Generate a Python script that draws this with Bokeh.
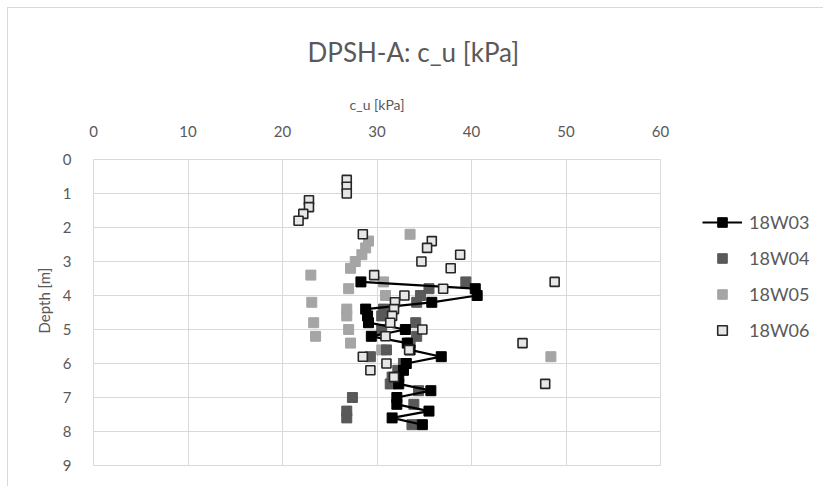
from bokeh.plotting import figure
from bokeh.models import Range1d, FixedTicker, Legend, LegendItem, Title
from bokeh.layouts import row
from bokeh.embed import file_html
from bokeh.resources import INLINE

# ---------------- data ----------------
title_text = "DPSH-A: c_u [kPa]"
x_label = "c_u [kPa]"
y_label = "Depth [m]"
x_ticks = [0, 10, 20, 30, 40, 50, 60]
y_ticks = [0, 1, 2, 3, 4, 5, 6, 7, 8, 9]

w03_depth = [3.6, 3.8, 4.0, 4.2, 4.4, 4.6, 4.8, 5.0, 5.2, 5.4, 5.6, 5.8, 6.0, 6.2, 6.4, 6.6, 6.8, 7.0, 7.2, 7.4, 7.6, 7.8]
w03_cu = [28.3, 40.4, 40.6, 35.8, 28.8, 29.0, 29.1, 33.0, 29.4, 33.2, 33.5, 36.8, 33.1, 32.8, 32.3, 32.3, 35.7, 32.1, 32.1, 35.5, 31.6, 34.8]

w04_depth = [3.6, 3.8, 4.0, 4.2, 4.4, 4.6, 4.8, 5.0, 5.2, 5.4, 5.6, 5.8, 6.0, 6.2, 6.4, 6.6, 6.8, 7.0, 7.2, 7.4, 7.6, 7.8]
w04_cu = [39.4, 35.5, 34.6, 34.2, 30.7, 30.5, 34.1, 30.5, 34.2, 33.5, 31.0, 29.3, 32.8, 32.2, 31.6, 31.4, 34.4, 27.4, 33.9, 26.8, 26.8, 33.7]

w05_depth = [2.2, 2.4, 2.6, 2.8, 3.0, 3.2, 3.4, 3.6, 3.8, 4.0, 4.2, 4.4, 4.6, 4.8, 5.0, 5.2, 5.4, 5.6, 5.8]
w05_cu = [33.5, 29.1, 28.8, 28.4, 27.7, 27.2, 23.0, 30.7, 27.0, 30.9, 23.1, 26.8, 26.8, 23.3, 27.0, 23.5, 27.2, 30.5, 48.4]

w06_depth = [0.6, 0.8, 1.0, 1.2, 1.4, 1.6, 1.8, 2.2, 2.4, 2.6, 2.8, 3.0, 3.2, 3.4, 3.6, 3.8, 4.0, 4.2, 4.4, 4.6, 4.8, 5.0, 5.2, 5.4, 5.6, 5.8, 6.0, 6.2, 6.4, 6.6]
w06_cu = [26.8, 26.8, 26.8, 22.8, 22.8, 22.2, 21.7, 28.5, 35.8, 35.3, 38.8, 34.7, 37.8, 29.7, 48.8, 37.0, 32.9, 31.9, 31.8, 31.6, 31.4, 34.8, 30.9, 45.4, 33.4, 28.5, 31.0, 29.3, 31.8, 47.8]

series_names = ["18W03", "18W04", "18W05", "18W06"]

# ---------------- styles ----------------
FONT = "Lato"
TXT = "#595959"
GRID = "#d9d9d9"
STY = {
    "18W03": dict(marker="square", size=10, fill_color="black", line_color="black"),
    "18W04": dict(marker="square", size=10, fill_color="#595959", line_color="#595959"),
    "18W05": dict(marker="square", size=10, fill_color="#a5a5a5", line_color="#a5a5a5"),
    "18W06": dict(marker="square", size=9, fill_color="#e7e7e7", line_color="#262626", line_width=1.6),
}

# ---------------- main plot ----------------
p = figure(width=662, height=478, output_backend="svg", toolbar_location=None,
           x_range=Range1d(0, 60), y_range=Range1d(9, 0),
           x_axis_location="above",
           min_border_left=85, min_border_top=149, min_border_right=10, min_border_bottom=21)
p.background_fill_color = "white"
p.border_fill_color = "white"
p.outline_line_color = GRID

p.title.text = title_text
p.title.align = "left"
p.title.offset = 214
p.title.standoff = 50
p.title.text_font = FONT
p.title.text_font_size = "26px"
p.title.text_font_style = "normal"
p.title.text_color = TXT

p.xaxis.ticker = FixedTicker(ticks=x_ticks)
p.yaxis.ticker = FixedTicker(ticks=y_ticks)
p.xgrid.ticker = FixedTicker(ticks=x_ticks)
p.ygrid.ticker = FixedTicker(ticks=y_ticks)
p.grid.grid_line_color = GRID
p.grid.grid_line_width = 1

for ax in (p.xaxis, p.yaxis):
    ax.axis_line_color = None
    ax.major_tick_line_color = None
    ax.minor_tick_line_color = None
    ax.major_label_text_color = TXT
    ax.major_label_text_font = FONT
    ax.major_label_text_font_size = "15px"

p.xaxis.major_label_standoff = 17
p.yaxis.major_label_standoff = 16
p.xaxis.axis_label = x_label
p.xaxis.axis_label_text_font = FONT
p.xaxis.axis_label_text_font_size = "14px"
p.xaxis.axis_label_text_font_style = "normal"
p.xaxis.axis_label_text_color = TXT
p.xaxis.axis_label_standoff = 10

p.add_layout(Title(text=y_label, align="left", offset=132, standoff=14,
                   text_font=FONT, text_font_size="15px", text_font_style="normal",
                   text_color=TXT), "left")

p.scatter(w05_cu, w05_depth, **STY["18W05"])
p.scatter(w04_cu, w04_depth, **STY["18W04"])
p.line(w03_cu, w03_depth, line_color="black", line_width=2.2)
p.scatter(w03_cu, w03_depth, **STY["18W03"])
p.scatter(w06_cu, w06_depth, **STY["18W06"])

# ---------------- legend panel ----------------
q = figure(width=153, height=478, output_backend="svg", toolbar_location=None,
           x_axis_location=None, y_axis_location=None, min_border=0)
q.grid.visible = False
q.outline_line_color = None
q.background_fill_color = "white"
q.border_fill_color = "white"

g03l = q.line(w03_cu, w03_depth, line_color="black", line_width=2.2, visible=False)
g03 = q.scatter(w03_cu, w03_depth, visible=False, **STY["18W03"])
g04 = q.scatter(w04_cu, w04_depth, visible=False, **STY["18W04"])
g05 = q.scatter(w05_cu, w05_depth, visible=False, **STY["18W05"])
g06 = q.scatter(w06_cu, w06_depth, visible=False, **STY["18W06"])

legend = Legend(items=[
    LegendItem(label=series_names[0], renderers=[g03l, g03]),
    LegendItem(label=series_names[1], renderers=[g04]),
    LegendItem(label=series_names[2], renderers=[g05]),
    LegendItem(label=series_names[3], renderers=[g06]),
], location=(32, 123))
legend.border_line_color = None
legend.background_fill_alpha = 0
legend.inactive_fill_alpha = 0
legend.margin = 0
legend.padding = 0
legend.glyph_width = 40
legend.glyph_height = 24
legend.label_height = 24
legend.spacing = 12
legend.label_standoff = 7
legend.label_text_font = FONT
legend.label_text_font_size = "18px"
legend.label_text_color = TXT
q.add_layout(legend, "center")

layout = row(p, q, margin=(7, 0, 0, 7),
             styles={"border-top": "1px solid #d9d9d9", "border-left": "1px solid #d9d9d9"})

open("out.html", "w").write(file_html(layout, INLINE))
